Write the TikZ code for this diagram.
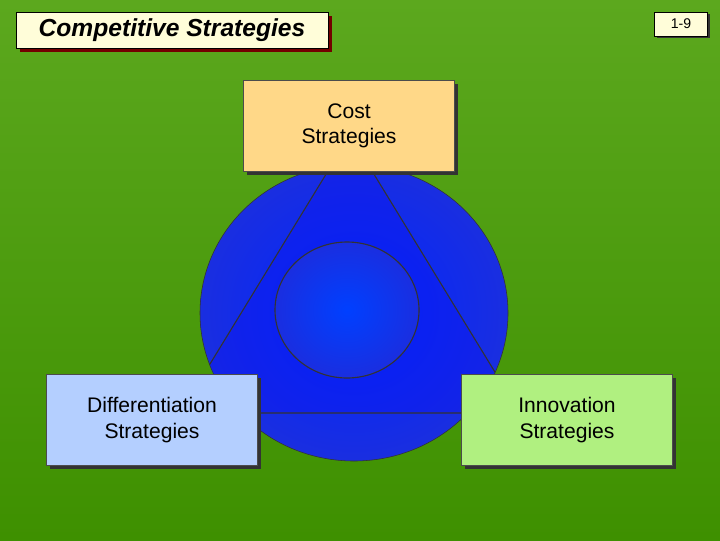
\documentclass[tikz,border=0pt]{standalone}
\usepackage{fontspec}
\setmainfont{Liberation Sans}
\usetikzlibrary{shadows}
\definecolor{bgtop}{HTML}{5CA81E}
\definecolor{bgbot}{HTML}{3E9000}
\definecolor{ballblue}{HTML}{1A2EE0}
\definecolor{costfill}{HTML}{FFD888}
\definecolor{difffill}{HTML}{B4CFFF}
\definecolor{innofill}{HTML}{B0F080}
\tikzset{
  stratbox/.style={draw=black!70,line width=0.6pt,minimum width=211\px,minimum height=91\px,
    align=center,font=\fontsize{15}{18}\selectfont,
    drop shadow={shadow xshift=2.5pt,shadow yshift=-2.5pt,opacity=1,fill=black!80}},
}
\newlength{\px}\setlength{\px}{0.025cm}
\begin{document}
\begin{tikzpicture}[x=0.025cm,y=-0.025cm]
  \useasboundingbox (0,0) rectangle (720,540);
  \shade[top color=bgtop,bottom color=bgbot] (0,0) rectangle (720,540);
  % Titel
  \node[draw=black,fill=yellow!15,minimum width=312\px,minimum height=36\px,
    font=\fontsize{17.5}{20}\selectfont\bfseries\itshape,
    drop shadow={shadow xshift=2.5pt,shadow yshift=-2.5pt,opacity=1,fill=red!45!black}]
    (title) at (172,30) {Competitive Strategies};
  \node[draw=black,fill=yellow!15,minimum width=53\px,minimum height=24\px,
    font=\fontsize{10}{12}\selectfont,
    drop shadow={shadow xshift=1.5pt,shadow yshift=-1.5pt,opacity=1,fill=black!80}]
    (page) at (681,24) {1-9};
  % Kugel
  \shade[inner color=blue!85!cyan,outer color=ballblue,draw=black!80]
    (354,313) ellipse (154 and 148);
  \begin{scope}
    \clip (354,313) ellipse (154 and 148);
    \draw[black!80,line width=0.8pt,fill=blue!60!ballblue,fill opacity=0.35]
      (350,135) -- (520,413) -- (180,413) -- cycle;
  \end{scope}
  \shade[inner color=blue!75!cyan,outer color=ballblue,draw=black!80,line width=0.8pt]
    (347,310) ellipse (72 and 68);
  % Kästen
  \node[stratbox,fill=costfill] (cost) at (349,126) {Cost\\Strategies};
  \node[stratbox,fill=difffill] (diff) at (152,420) {Differentiation\\Strategies};
  \node[stratbox,fill=innofill] (inno) at (567,420) {Innovation\\Strategies};
\end{tikzpicture}
\end{document}
